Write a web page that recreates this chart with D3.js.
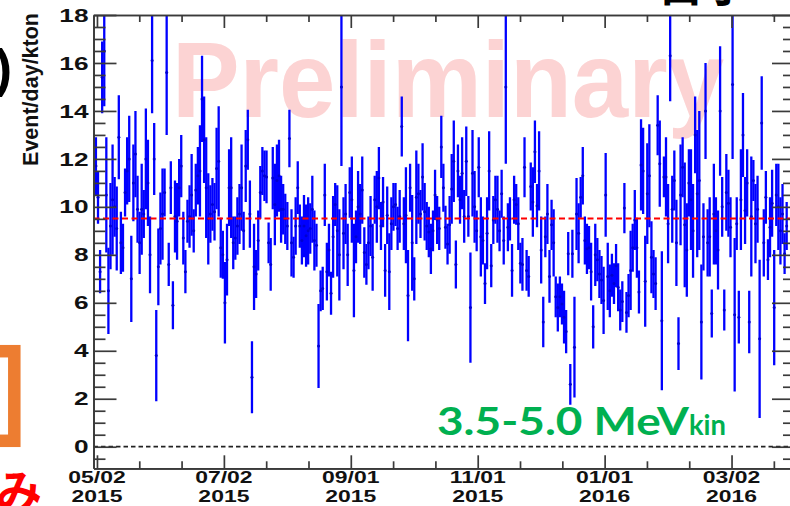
<!DOCTYPE html>
<html>
<head>
<meta charset="utf-8">
<script src="https://cdn.jsdelivr.net/npm/d3@7"></script>
<style>
  html, body { margin: 0; padding: 0; background: #fff; }
  svg { display: block; }
</style>
</head>
<body>
<div class="canvas-rate"></div>
<script>
// daily event rate, first point is firstDay, one point per day
const firstDay = '2015-05-01';

const rate = [
  11.7,10.4,7.3,15.4,16.5,10.5,6.5,9.2,10.3,10.0, 9.1,12.9,8.5,8.3,10.6,11.5,12.0,7.0,11.0,12.2,
  9.9,8.5,9.9,9.7,12.0,11.0,8.0,16.1,12.0,3.8, 7.5,9.1,9.7,10.6,15.6,7.6,10.8,5.9,9.6,9.4,
  10.8,11.7,8.7,7.3,9.4,9.6,10.5,9.0,10.7,11.3, 11.5,14.5,12.8,10.8,9.5,9.7,10.1,9.8,11.6,11.9,
  8.3,8.0,6.0,7.8,10.8,10.8,8.5,8.7,9.2,9.7, 10.8,9.0,11.7,12.8,9.7,2.9,7.5,7.2,8.6,10.6, 11.5,
  11.3,11.25,8.5,7.6,11.2,10.1,11.1,11.3,9.9,9.9, 9.5,9.2,12.85,8.5,7.9,9.2,10.8,9.2,8.6,9.2,
  8.8,9.0,9.1,9.9,8.6,8.4,4.2,6.5,6.6,10.5, 7.3,8.2,6.4,8.75,10.1,9.0,8.0,15.0,8.9,9.7,
  8.0,10.6,10.3,7.35,8.75,10.0,9.7,10.7,8.1,7.6, 8.5,9.2,7.9,10.3,10.0,11.2,9.2,10.2,7.35,9.65,
  7.3,9.3,10.0,10.1,9.1,9.6,13.35,9.3,9.65,6.3, 10.8,8.5,7.0,10.4,10.55,9.7,11.25,9.8,9.2,8.95,
  8.25,9.0,10.5,9.45,9.1,12.5,10.8,
  9.15,8.45,9.25,10.75,11.9,7.6,11.5,10.3,11.4,9.6, 11.9,9.6,5.8,11.4,10.0,9.0,11.65,8.75,8.6,6.8,
  8.9,11.5,7.55,9.45,10.3,9.9,9.0,10.55,8.6,15.0, 9.15,9.5,7.35,10.3,10.1,9.3,7.65,7.6,11.65,7.35,
  7.1,10.85,10.2,12.3,10.05,11.5,8.2,5.2,8.75,9.7, 7.1,9.25,8.5,6.25,5.8,6.25,5.95,5.4,4.8,8.05,
  2.6,8.05,4.15,9.7,8.9,10.4,11.3,8.6,8.25,8.3, 7.3,5.0,8.0,7.8,7.2,6.95,6.1,10.5,7.1,6.5,
  7.15,6.8,
  7.55,6.65,5.7,6.05,9.95,5.6,6.3,7.35,8.3,9.45, 8.3,6.45,11.75,11.5,6.9,10.55,11.3,7.9,7.2,6.8,
  13.4,11.8,5.25,11.25,11.25,9.3,16.3,9.9,11.1,8.5, 4.3,10.5,11.65,9.25,8.2,11.0,10.3,9.0,13.0,10.55,
  11.1,5.2,8.75,14.0,8.5,8.75,5.55,9.7,9.0,8.2, 14.0,10.0,5.7,10.6,10.15,9.15,15.1,5.5,9.3,5.4,
  10.3,13.0,9.85,11.0,5.2,9.6,11.1,9.3,9.9,4.5, 13.5,8.5,10.4,7.8,9.15,10.15,5.8,10.5,10.0,9.0,
  9.7,8.05,9.2
];

const err = [
  1.2,1.1,0.9,1.5,2.3,2.4,1.8,1.8,2.3,1.25, 1.75,1.75,1.3,1.0,1.0,1.4,1.8,1.8,1.6,1.8,
  1.4,1.3,1.9,1.0,2.1,1.8,1.6,2.2,1.5,1.9, 1.6,1.5,1.9,1.0,2.6,0.9,1.1,1.0,1.5,1.6,
  1.2,1.3,1.1,0.9,0.9,1.3,1.7,0.9,1.1,1.2, 1.9,1.8,1.8,2.1,1.9,1.2,1.1,1.2,1.7,2.3,
  1.25,1.0,1.7,1.5,1.6,2.1,1.1,0.9,1.2,1.25, 1.8,0.8,1.5,1.25,1.4,1.5,1.8,1.0,1.25,1.1, 1.0,
  1.05,1.1,0.85,1.1,1.3,1.7,1.5,1.5,1.4,1.05, 1.05,1.0,1.2,1.4,0.85,1.2,1.1,0.9,1.0,1.3,
  1.3,1.4,1.05,1.4,1.25,0.9,1.75,0.85,0.9,1.3, 1.2,1.1,0.9,1.7,0.9,1.9,1.9,3.3,1.5,1.25,
  1.3,1.05,1.8,1.95,1.1,1.5,1.25,1.4,1.05,0.85, 1.1,1.25,1.4,1.0,1.5,1.3,1.0,1.05,1.1,1.2,
  1.6,1.1,1.0,0.9,0.9,1.1,1.25,1.1,2.0,1.9, 1.0,2.0,0.9,1.95,1.25,1.0,1.4,1.2,1.0,1.05,
  1.05,0.85,1.05,1.0,0.9,1.3,1.0,
  0.9,0.85,1.2,1.45,1.7,1.0,1.1,1.0,1.5,1.1, 1.45,0.85,2.3,1.8,1.5,0.85,1.25,1.65,1.0,0.85,
  1.5,1.65,0.9,1.0,1.0,1.4,0.85,1.0,1.0,3.2, 1.0,0.9,1.1,1.0,0.85,1.1,0.85,1.1,1.25,0.85,
  0.85,1.0,1.45,1.3,0.9,1.65,1.4,1.05,0.85,1.25, 1.1,1.05,1.4,0.85,1.0,0.85,0.85,1.1,0.9,0.9,
  0.85,1.0,2.1,1.5,1.25,0.85,1.2,1.0,1.05,0.9, 1.2,0.9,1.3,0.9,1.0,1.0,1.4,1.75,1.4,1.1,
  0.9,0.85,
  0.9,1.0,0.85,0.85,1.05,0.85,0.9,1.65,1.0,1.25, 1.25,0.9,1.9,1.8,1.9,2.1,2.15,1.5,1.0,1.1,
  1.25,1.8,2.9,0.85,1.65,1.65,1.9,1.4,1.25,1.8, 1.1,2.1,1.25,2.6,1.95,1.4,2.1,1.95,1.6,2.65,
  2.9,2.4,1.4,2.0,1.4,1.65,1.0,2.1,1.4,1.65, 2.7,1.25,0.85,1.6,1.4,1.25,3.1,3.2,1.1,1.1,
  2.1,1.75,1.4,1.4,1.3,2.5,0.85,1.65,1.4,3.3, 1.95,1.4,1.1,0.85,1.25,1.4,2.4,1.3,1.8,1.4,
  1.25,0.85,1.0
];

const meanRate = 9.52;
const yTicks = [0, 2, 4, 6, 8, 10, 12, 14, 16, 18];
const dateTicks = ['2015-05-02', '2015-07-02', '2015-09-01', '2015-11-01', '2016-01-01', '2016-03-02'];
const yTitle = 'Event/day/kton';
const energyText = '3.5-5.0 MeV';
const energySub = 'kin';
const watermark = 'Preliminary';

const width = 790, height = 506;
const margin = { left: 93.5, right: 795, top: 15, bottom: 468.3 };
const axisColor = '#3a3a3a';

const parseDay = d3.timeParse('%Y-%m-%d');
const day0 = parseDay(firstDay);
const points = rate.map((r, i) => ({
  date: d3.timeHour.offset(d3.timeDay.offset(day0, i), 12),
  r: r,
  e: err[i]
}));
const majorDates = dateTicks.map(parseDay);

const svg = d3.select('.canvas-rate').append('svg')
  .attr('width', width)
  .attr('height', height);

// Scales
const x = d3.scaleTime()
  .domain([new Date(2015, 3, 30, 8), new Date(2016, 3, 1, 12)])
  .range([margin.left, margin.right]);

const y = d3.scaleLinear()
  .domain([-0.9, 18])
  .range([margin.bottom, margin.top]);

// minor date ticks, 3 per 61 day step
const stepMs = 61 * 864e5 / 3;
let minorDates = [];
majorDates.forEach(d => {
  for (let k = 1; k <= 2; k++) {
    const t = new Date(d.getTime() + k * stepMs);
    if (t <= x.domain()[1]) minorDates.push(t);
  }
});
const minorY = d3.range(-0.5, 18.01, 0.5).filter(v => v % 2 !== 0);

// watermark behind the data
svg.append('text')
  .attr('x', 172)
  .attr('y', 117)
  .attr('font-family', 'Liberation Sans, Arial, sans-serif')
  .attr('font-weight', 'bold')
  .attr('font-size', 107)
  .attr('fill', '#fcd3d3')
  .attr('textLength', 552)
  .attr('lengthAdjust', 'spacingAndGlyphs')
  .text(watermark);

svg.append('clipPath').attr('id', 'plot-clip')
  .append('rect')
  .attr('x', margin.left).attr('y', margin.top)
  .attr('width', margin.right - margin.left).attr('height', margin.bottom - margin.top);

const plot = svg.append('g').attr('clip-path', 'url(#plot-clip)');

// error bars
plot.selectAll('line.bar')
  .data(points)
  .enter()
  .append('line')
  .attr('class', 'bar')
  .attr('x1', d => x(d.date))
  .attr('x2', d => x(d.date))
  .attr('y1', d => y(d.r + d.e))
  .attr('y2', d => y(d.r - d.e))
  .attr('stroke', '#0000ff')
  .attr('stroke-width', 2.3);

plot.selectAll('circle.pt')
  .data(points)
  .enter()
  .append('circle')
  .attr('class', 'pt')
  .attr('cx', d => x(d.date))
  .attr('cy', d => y(d.r))
  .attr('r', 1.5)
  .attr('fill', '#0000d0');

// mean line and zero line
plot.append('line')
  .attr('x1', margin.left).attr('x2', margin.right)
  .attr('y1', y(meanRate)).attr('y2', y(meanRate))
  .attr('stroke', '#ff0000')
  .attr('stroke-width', 2)
  .attr('stroke-dasharray', '6,3.5');

plot.append('line')
  .attr('x1', margin.left).attr('x2', margin.right)
  .attr('y1', y(0)).attr('y2', y(0))
  .attr('stroke', '#222')
  .attr('stroke-width', 1.8)
  .attr('stroke-dasharray', '4.5,3');

// Axis
function styleAxis(g) {
  g.selectAll('path, line').attr('stroke', axisColor).attr('stroke-width', 1.7);
  g.selectAll('text').remove();
}

svg.append('g')
  .attr('transform', `translate(0, ${margin.bottom})`)
  .call(d3.axisBottom(x).tickValues(majorDates).tickSize(-13).tickSizeOuter(0).tickFormat(''))
  .call(styleAxis);
svg.append('g')
  .attr('transform', `translate(0, ${margin.bottom})`)
  .call(d3.axisBottom(x).tickValues(minorDates).tickSize(-7).tickSizeOuter(0).tickFormat(''))
  .call(styleAxis);
svg.append('g')
  .attr('transform', `translate(0, ${margin.top})`)
  .call(d3.axisTop(x).tickValues(majorDates).tickSize(-13).tickSizeOuter(0).tickFormat(''))
  .call(styleAxis);
svg.append('g')
  .attr('transform', `translate(0, ${margin.top})`)
  .call(d3.axisTop(x).tickValues(minorDates).tickSize(-7).tickSizeOuter(0).tickFormat(''))
  .call(styleAxis);

svg.append('g')
  .attr('transform', `translate(${margin.left}, 0)`)
  .call(d3.axisLeft(y).tickValues(yTicks).tickSize(-23).tickSizeOuter(0).tickFormat(''))
  .call(styleAxis);
svg.append('g')
  .attr('transform', `translate(${margin.left}, 0)`)
  .call(d3.axisLeft(y).tickValues(minorY).tickSize(-12).tickSizeOuter(0).tickFormat(''))
  .call(styleAxis);
svg.append('g')
  .attr('transform', `translate(${margin.right}, 0)`)
  .call(d3.axisRight(y).tickValues(yTicks).tickSize(-23).tickSizeOuter(0).tickFormat(''))
  .call(styleAxis);
svg.append('g')
  .attr('transform', `translate(${margin.right}, 0)`)
  .call(d3.axisRight(y).tickValues(minorY).tickSize(-12).tickSizeOuter(0).tickFormat(''))
  .call(styleAxis);

// tick labels (wide bold ROOT style)
const labelFont = 'Liberation Sans, Arial, Helvetica, sans-serif';
const yFs = 18.5;
svg.append('g').selectAll('g')
  .data(yTicks)
  .enter()
  .append('g')
  .attr('transform', d => `translate(88.5, ${y(d) + 0.358 * yFs}) scale(1.42, 1)`)
  .append('text')
  .attr('text-anchor', 'end')
  .attr('font-family', labelFont)
  .attr('font-weight', 'bold')
  .attr('font-size', yFs)
  .attr('fill', '#111')
  .text(d => d);

const fmtMD = d3.timeFormat('%m/%d'), fmtY = d3.timeFormat('%Y');
const xLab = svg.append('g').selectAll('g')
  .data(majorDates)
  .enter()
  .append('g')
  .attr('transform', d => `translate(${x(d)}, 0) scale(1.35, 1)`);
xLab.append('text')
  .attr('y', 483.5)
  .attr('text-anchor', 'middle')
  .attr('font-family', labelFont)
  .attr('font-weight', 'bold')
  .attr('font-size', 17)
  .attr('fill', '#111')
  .text(d => fmtMD(d));
xLab.append('text')
  .attr('y', 502.5)
  .attr('text-anchor', 'middle')
  .attr('font-family', labelFont)
  .attr('font-weight', 'bold')
  .attr('font-size', 17)
  .attr('fill', '#111')
  .text(d => fmtY(d));

// y title
svg.append('text')
  .attr('transform', 'translate(37.5, 13) rotate(-90)')
  .attr('text-anchor', 'end')
  .attr('font-family', labelFont)
  .attr('font-weight', 'bold')
  .attr('font-size', 21.5)
  .attr('fill', '#111')
  .text(yTitle);

// energy range label
svg.append('text')
  .attr('x', 437)
  .attr('y', 435)
  .attr('font-family', 'Lato, Open Sans, sans-serif')
  .attr('font-weight', 'bold')
  .attr('font-size', 37.5)
  .attr('fill', '#00b050')
  .attr('textLength', 252)
  .attr('lengthAdjust', 'spacingAndGlyphs')
  .text(energyText);
svg.append('text')
  .attr('x', 689)
  .attr('y', 435)
  .attr('font-family', 'Lato, Open Sans, sans-serif')
  .attr('font-weight', 'bold')
  .attr('font-size', 29)
  .attr('fill', '#00b050')
  .attr('textLength', 37)
  .attr('lengthAdjust', 'spacingAndGlyphs')
  .text(energySub);

// bits of the surrounding slide
svg.append('text')
  .attr('x', 12)
  .attr('y', 86)
  .attr('text-anchor', 'end')
  .attr('font-family', labelFont)
  .attr('font-weight', 'bold')
  .attr('font-size', 52)
  .attr('fill', '#000')
  .text(')');

svg.append('rect')
  .attr('x', -100)
  .attr('y', 351.2)
  .attr('width', 114.3)
  .attr('height', 89.6)
  .attr('fill', 'none')
  .attr('stroke', '#ed7d31')
  .attr('stroke-width', 12.5);

svg.append('text')
  .attr('x', -4)
  .attr('y', 508)
  .attr('font-family', 'Noto Sans CJK JP, sans-serif')
  .attr('font-weight', 'bold')
  .attr('font-size', 46)
  .attr('fill', '#ff0000')
  .text('み');

svg.append('text')
  .attr('x', 658)
  .attr('y', 1)
  .attr('font-family', 'Noto Sans CJK JP, sans-serif')
  .attr('font-weight', 'bold')
  .attr('font-size', 46)
  .attr('fill', '#000')
  .text('目小');
</script>
</body>
</html>
